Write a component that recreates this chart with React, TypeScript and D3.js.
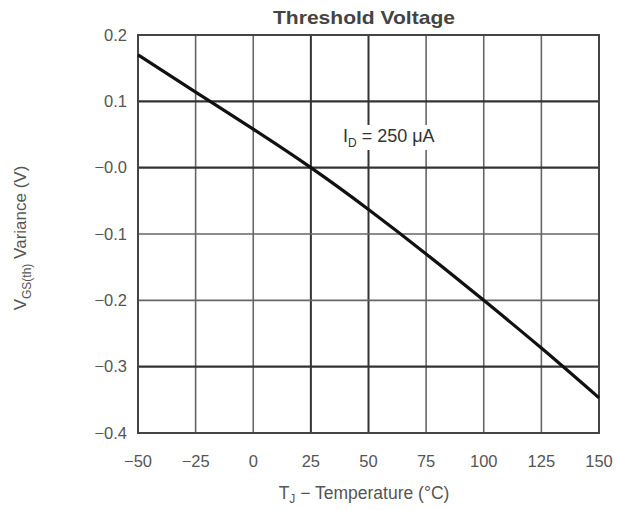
import React from "react";
import * as d3 from "d3";

const temps = [-50, -25, 0, 25, 50, 75, 100, 125, 150];
const variance = [0.170, 0.114, 0.058, 0.0, -0.063, -0.130, -0.200, -0.272, -0.347];
const xTicks = [-50, -25, 0, 25, 50, 75, 100, 125, 150];
const xTickLabels = ["−50", "−25", "0", "25", "50", "75", "100", "125", "150"];
const yTicks = [0.2, 0.1, 0.0, -0.1, -0.2, -0.3, -0.4];
const yTickLabels = ["0.2", "0.1", "−0.0", "−0.1", "−0.2", "−0.3", "−0.4"];
const strongY = [0.1, 0.0, -0.3];
const strongX = [25, 50];

const W = 617, H = 510;
const M = { left: 138, right: 599, top: 35, bottom: 433 };
const FONT = "'Liberation Sans', Arial, sans-serif";

export default function App() {
  const x = d3.scaleLinear().domain([-50, 150]).range([M.left, M.right]);
  const y = d3.scaleLinear().domain([-0.4, 0.2]).range([M.bottom, M.top]);
  const line = d3
    .line<number>()
    .x((_, i) => x(temps[i]))
    .y((d) => y(d))
    .curve(d3.curveNatural);

  return (
    <svg width={W} height={H} style={{ position: "absolute", left: 0, top: 0, background: "#fff" }} fontFamily={FONT}>
      <rect width={W} height={H} fill="#fff" />
      {xTicks.map((t) => (
        <line key={"gx" + t} x1={x(t)} x2={x(t)} y1={M.top} y2={M.bottom}
          stroke={strongX.includes(t) ? "#333" : "#666"} strokeWidth={strongX.includes(t) ? 2 : 1.6} />
      ))}
      {yTicks.map((t) => (
        <line key={"gy" + t} x1={M.left} x2={M.right} y1={y(t)} y2={y(t)}
          stroke={strongY.includes(t) ? "#333" : "#666"} strokeWidth={strongY.includes(t) ? 2.2 : 1.6} />
      ))}
      <rect x={M.left} y={M.top} width={M.right - M.left} height={M.bottom - M.top} fill="none" stroke="#444" strokeWidth={2} />
      <rect x={340} y={125} width={104} height={25} fill="#fff" />
      <path d={line(variance) || ""} fill="none" stroke="#111" strokeWidth={3.2} />
      {yTicks.map((t, i) => (
        <text key={"yl" + t} x={127} y={y(t)} dy="0.35em" textAnchor="end" fontSize={16.5} fill="#555">
          {yTickLabels[i]}
        </text>
      ))}
      {xTicks.map((t, i) => (
        <text key={"xl" + t} x={x(t)} y={461} dy="0.35em" textAnchor="middle" fontSize={16.5} fill="#555">
          {xTickLabels[i]}
        </text>
      ))}
      <text x={364} y={17} dy="0.35em" textAnchor="middle" fontSize={19} fontWeight="bold" fill="#444"
        textLength={182} lengthAdjust="spacingAndGlyphs">
        Threshold Voltage
      </text>
      <text x={364} y={493} dy="0.35em" textAnchor="middle" fontSize={17.5} fill="#555">
        T<tspan fontSize={12} dy="4">J</tspan><tspan dy="-4"> − Temperature (°C)</tspan>
      </text>
      <text transform="translate(20,238) rotate(-90)" dy="0.35em" textAnchor="middle" fontSize={17} fill="#555">
        V<tspan fontSize={12} dy="5">GS(th)</tspan><tspan dy="-5">  Variance (V)</tspan>
      </text>
      <text x={343} y={136} dy="0.35em" fontSize={18} fill="#333">
        I<tspan fontSize={12} dy="5">D</tspan><tspan dy="-5"> = 250 μA</tspan>
      </text>
    </svg>
  );
}
